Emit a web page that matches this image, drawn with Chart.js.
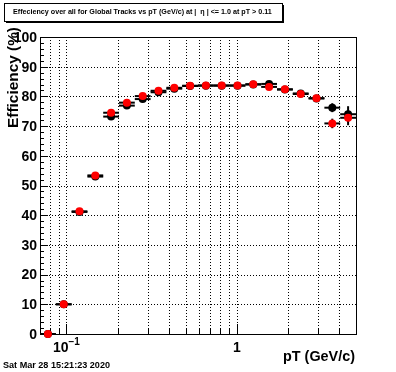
<!DOCTYPE html>
<html>
<head>
<meta charset="utf-8">
<script src="https://cdn.jsdelivr.net/npm/chart.js@4.4.0/dist/chart.umd.min.js"></script>
<style>
html, body { margin: 0; padding: 0; background: #fff; }
canvas { display: block; }
</style>
</head>
<body>
<canvas id="effChart" width="396" height="372"></canvas>
<script>
// pT bins (log spaced, 0.07 - 5 GeV/c)
var binEdges = [0.07, 0.0867, 0.1073, 0.1328, 0.1644, 0.2035, 0.2519, 0.3118, 0.3860, 0.4779, 0.5916,
                0.7323, 0.9065, 1.122, 1.389, 1.720, 2.129, 2.635, 3.262, 4.038, 5.0];

var effBlack = [0, 10.0, 41.1, 53.0, 73.2, 76.9, 79.1, 81.4, 82.6, 83.5, 83.6,
                83.6, 83.6, 84.0, 84.2, 82.3, 81.0, 79.3, 76.2, 74.0];
var errBlack = [0.3, 0.6, 0.8, 0.8, 0.7, 0.6, 0.5, 0.5, 0.5, 0.5, 0.5,
                0.5, 0.6, 0.6, 0.7, 0.8, 0.9, 1.1, 1.5, 2.7];
var effRed   = [0, 10.0, 41.3, 53.4, 74.5, 77.9, 80.1, 81.9, 82.9, 83.6, 83.7,
                83.7, 83.7, 84.1, 83.2, 82.4, 80.8, 79.4, 70.9, 72.8];
var errRed   = [0.3, 0.6, 0.8, 0.8, 0.7, 0.6, 0.5, 0.5, 0.5, 0.5, 0.5,
                0.5, 0.6, 0.6, 0.7, 0.8, 0.9, 1.1, 1.6, 2.5];

var yTicks = [0, 10, 20, 30, 40, 50, 60, 70, 80, 90, 100];
var yMinor = [];
for (var v = 0; v <= 100; v += 2) yMinor.push(v);
var xMajorTicks = [0.1, 1];
var xMinorTicks = [0.08, 0.09, 0.2, 0.3, 0.4, 0.5, 0.6, 0.7, 0.8, 0.9, 2, 3, 4];

var titleText = 'Effeciency over all for Global Tracks vs pT (GeV/c) at |  \u03b7 | <= 1.0 at pT > 0.11';
var xTitle = 'pT (GeV/c)';
var yTitle = 'Efficiency (%)';
var dateText = 'Sat Mar 28 15:21:23 2020';

var FAM = '"Liberation Sans", Arial, Helvetica, sans-serif';

var makePoints = function(eff, err){
  var pts = [];
  for (var i = 0; i < eff.length; i++) {
    var lo = binEdges[i], hi = binEdges[i + 1];
    pts.push({x: Math.sqrt(lo * hi), y: eff[i], lo: lo, hi: hi, err: err[i]});
  }
  return pts;
};

var fitFont = function(ctx, text, width, weight){
  ctx.font = weight + ' 20px ' + FAM;
  var w = ctx.measureText(text).width;
  return weight + ' ' + (20 * width / w).toFixed(2) + 'px ' + FAM;
};

var rootStyle = {
  id: 'rootStyle',
  beforeDatasetsDraw: function(chart){
    var ctx = chart.ctx, a = chart.chartArea;
    var xs = chart.scales.x, ys = chart.scales.y;
    ctx.save();
    ctx.strokeStyle = '#000';
    ctx.lineWidth = 1;
    // dotted grid
    ctx.setLineDash([1, 2]);
    var gx = xMinorTicks.concat(xMajorTicks);
    for (var i = 0; i < gx.length; i++) {
      var px = Math.round(xs.getPixelForValue(gx[i])) + 0.5;
      ctx.beginPath(); ctx.moveTo(px, a.top); ctx.lineTo(px, a.bottom); ctx.stroke();
    }
    for (var i = 1; i < yTicks.length - 1; i++) {
      var py = Math.round(ys.getPixelForValue(yTicks[i])) + 0.5;
      ctx.beginPath(); ctx.moveTo(a.left, py); ctx.lineTo(a.right, py); ctx.stroke();
    }
    ctx.setLineDash([]);
    // frame
    ctx.strokeRect(Math.round(a.left) + 0.5, Math.round(a.top) + 0.5,
                   Math.round(a.right - a.left), Math.round(a.bottom - a.top));
    // y ticks (inside)
    for (var i = 0; i < yMinor.length; i++) {
      var py = Math.round(ys.getPixelForValue(yMinor[i])) + 0.5;
      var len = yMinor[i] % 10 === 0 ? 8 : 4;
      ctx.beginPath(); ctx.moveTo(a.left, py); ctx.lineTo(a.left + len, py); ctx.stroke();
    }
    // x ticks (inside)
    for (var i = 0; i < gx.length; i++) {
      var px = Math.round(xs.getPixelForValue(gx[i])) + 0.5;
      var len = xMajorTicks.indexOf(gx[i]) >= 0 ? 10 : 6;
      ctx.beginPath(); ctx.moveTo(px, a.bottom); ctx.lineTo(px, a.bottom - len); ctx.stroke();
    }
    ctx.restore();
  },
  beforeDatasetDraw: function(chart, args){
    var ctx = chart.ctx;
    var xs = chart.scales.x, ys = chart.scales.y;
    var pts = chart.data.datasets[args.index].data;
    ctx.save();
    ctx.strokeStyle = '#000';
    ctx.lineWidth = 2;
    for (var i = 0; i < pts.length; i++) {
      var p = pts[i];
      var py = ys.getPixelForValue(p.y);
      var px = xs.getPixelForValue(p.x);
      ctx.beginPath();
      ctx.moveTo(xs.getPixelForValue(p.lo), py);
      ctx.lineTo(xs.getPixelForValue(p.hi), py);
      ctx.stroke();
      ctx.beginPath();
      ctx.moveTo(px, ys.getPixelForValue(p.y - p.err));
      ctx.lineTo(px, ys.getPixelForValue(p.y + p.err));
      ctx.stroke();
    }
    ctx.restore();
  },
  afterDraw: function(chart){
    var ctx = chart.ctx, a = chart.chartArea;
    var xs = chart.scales.x, ys = chart.scales.y;
    ctx.save();
    ctx.fillStyle = '#000';
    ctx.strokeStyle = '#000';
    // y tick labels
    ctx.font = 'bold 14px ' + FAM;
    ctx.textAlign = 'right';
    ctx.textBaseline = 'middle';
    for (var i = 0; i < yTicks.length; i++) {
      ctx.fillText(String(yTicks[i]), a.left - 3, ys.getPixelForValue(yTicks[i]) + 1);
    }
    // x tick labels
    ctx.textAlign = 'center';
    ctx.fillText('1', xs.getPixelForValue(1), a.bottom + 14);
    var p01 = xs.getPixelForValue(0.1);
    ctx.textAlign = 'left';
    var w10 = ctx.measureText('10').width;
    ctx.font = 'bold 10px ' + FAM;
    var wsup = ctx.measureText('\u22121').width;
    var x0 = p01 - (w10 + wsup) / 2;
    ctx.fillText('\u22121', x0 + w10, a.bottom + 8);
    ctx.font = 'bold 14px ' + FAM;
    ctx.fillText('10', x0, a.bottom + 14);
    // axis titles
    ctx.font = fitFont(ctx, xTitle, 72, 'bold');
    ctx.textAlign = 'right';
    ctx.fillText(xTitle, a.right - 1, a.bottom + 23);
    ctx.save();
    ctx.translate(14, 27);
    ctx.rotate(-Math.PI / 2);
    ctx.font = fitFont(ctx, yTitle, 101, 'bold');
    ctx.textAlign = 'right';
    ctx.fillText(yTitle, 0, 0);
    ctx.restore();
    // title box
    ctx.fillStyle = '#fff';
    ctx.fillRect(4, 3, 278, 18);
    ctx.lineWidth = 1;
    ctx.strokeRect(4.5, 3.5, 278, 18);
    ctx.fillStyle = '#000';
    ctx.fillRect(283, 5, 1, 17);
    ctx.fillRect(6, 22, 278, 1);
    ctx.font = fitFont(ctx, titleText, 259, 'bold');
    ctx.textAlign = 'left';
    ctx.fillText(titleText, 13, 12.5);
    // date stamp
    ctx.font = fitFont(ctx, dateText, 107, 'bold');
    ctx.fillText(dateText, 3, 365);
    ctx.restore();
  }
};

new Chart(document.getElementById('effChart'), {
  type: 'scatter',
  data: {
    datasets: [
      { label: 'red', data: makePoints(effRed, errRed), backgroundColor: '#ff0000',
        borderWidth: 0, pointRadius: 4, clip: false },
      { label: 'black', data: makePoints(effBlack, errBlack), backgroundColor: '#000000',
        borderWidth: 0, pointRadius: 4, clip: false }
    ]
  },
  options: {
    responsive: false,
    animation: false,
    layout: { padding: { left: 40, top: 37, right: 40, bottom: 38 } },
    plugins: { legend: { display: false }, tooltip: { enabled: false } },
    scales: {
      x: { type: 'logarithmic', min: 0.07, max: 5, display: false },
      y: { type: 'linear', min: 0, max: 100, display: false }
    }
  },
  plugins: [rootStyle]
});
</script>
</body>
</html>
